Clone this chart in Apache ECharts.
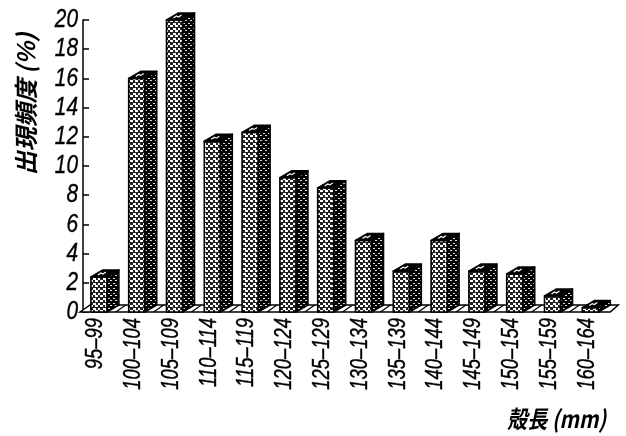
<!DOCTYPE html>
<html>
<head>
<meta charset="utf-8">
<style>html,body{margin:0;padding:0;background:#fff}#c{width:626px;height:436px}</style>
<script src="https://cdn.jsdelivr.net/npm/echarts@6/dist/echarts.min.js"></script>
</head>
<body>
<div id="c"></div>
<script>
const categories = ['95-99','100-104','105-109','110-114','115-119','120-124','125-129','130-134','135-139','140-144','145-149','150-154','155-159','160-164'];
const frequency = [2.4,16,20,11.7,12.3,9.2,8.5,4.9,2.8,4.9,2.8,2.6,1.1,0.3];
const yTicks = [0,2,4,6,8,10,12,14,16,18,20];
const yTitle = '出現頻度 (%)';
const xTitle = '殻長 (mm)';

// Halftone tiles for the bar faces: staggered blobs on a 10px repeat
function halftone(bg, fg, w, h) {
  const c = document.createElement('canvas');
  c.width = c.height = 10;
  const g = c.getContext('2d');
  g.fillStyle = bg; g.fillRect(0, 0, 10, 10);
  g.fillStyle = fg;
  [[0, 0], [5, 0], [3, 3], [8, 3], [0, 5], [5, 5], [3, 8], [8, 8]].forEach(p => g.fillRect(p[0], p[1], w, h));
  return c;
}
const frontFill = { image: halftone('#222', '#fff', 3, 2), repeat: 'repeat' };
const sideFill = { image: halftone('#000', '#ddd', 2, 1), repeat: 'repeat' };

const BAR_W = 16, DEPTH_X = 12, DEPTH_Y = 7;
const INK = '#000';
const LATIN = '"Liberation Sans",sans-serif';
const CJK = '"Noto Sans CJK JP",sans-serif';

function renderBar(params, api) {
  const [x, y] = api.coord([api.value(0), api.value(1)]);
  const [, y0] = api.coord([api.value(0), 0]);
  const l = x - BAR_W / 2, r = x + BAR_W / 2;
  const line = { stroke: INK, lineWidth: 1.6, lineJoin: 'round' };
  const sx = DEPTH_X, sy = DEPTH_Y;
  return {
    type: 'group',
    children: [
      { type: 'polygon', shape: { points: [[r, y], [r + sx, y - sy], [r + sx, y0 - sy], [r, y0]] },
        style: { fill: sideFill, ...line } },
      { type: 'rect', shape: { x: l, y: y, width: BAR_W, height: y0 - y },
        style: { fill: frontFill, ...line } },
      { type: 'polygon', shape: { points: [[l, y], [l + sx, y - sy], [r + sx, y - sy], [r, y]] },
        style: { fill: INK, ...line } },
      { type: 'polyline', shape: { points: [[l + 7, y - 2], [l + 10, y - 4], [l + 12, y - 3], [l + 15, y - 5]] },
        style: { fill: 'none', stroke: '#fff', lineWidth: 1.2 } }
    ]
  };
}

// Floor plane with a diagonal rule beside every bar
function renderFloor(params, api) {
  const [x] = api.coord([api.value(0), 0]);
  const [, y0] = api.coord([0, 0]);
  const band = api.size([1, 0])[0];
  const children = [];
  if (params.dataIndex === 0) {
    const last = categories.length - 1;
    const xl = api.coord([0, 0])[0] - band / 2;
    const xr = api.coord([last, 0])[0] + band / 2;
    children.push({ type: 'polygon',
      shape: { points: [[xl, y0], [xl + 10, y0 - DEPTH_Y], [xr + 9, y0 - DEPTH_Y], [xr + 1, y0]] },
      style: { fill: '#fff', stroke: INK, lineWidth: 1.5 } });
  }
  if (params.dataIndex < categories.length - 1) {
    children.push({ type: 'line',
      shape: { x1: x + band / 2 - 2, y1: y0, x2: x + band / 2 + 8, y2: y0 - DEPTH_Y },
      style: { stroke: INK, lineWidth: 1.2 } });
  }
  return { type: 'group', children };
}

// Condensed italic numerals, placed through the axis scales
function renderYLabel(params, api) {
  const [, y] = api.coord([0, api.value(1)]);
  return { type: 'text', x: params.coordSys.x - 2, y: y, scaleX: 0.8,
    style: { text: String(api.value(1)), font: 'italic 26px ' + LATIN, fill: INK, stroke: INK, lineWidth: 0.4, align: 'right', verticalAlign: 'middle' } };
}
function renderXLabel(params, api) {
  const [x, y0] = api.coord([api.value(0), 0]);
  return { type: 'text', x: x - 3, y: y0 + 6, rotation: Math.PI / 2, scaleX: 0.8,
    style: { text: categories[params.dataIndex].replace('-', '–'), font: 'italic 23px ' + LATIN, fill: INK, stroke: INK, lineWidth: 0.4, align: 'right', verticalAlign: 'middle' } };
}

const chart = echarts.init(document.getElementById('c'), null, { renderer: 'canvas' });

chart.setOption({
  animation: false,
  backgroundColor: '#fff',
  grid: { left: 80, top: 20, width: 529.2, height: 292 },
  xAxis: {
    type: 'category', data: categories,
    axisLine: { show: false }, axisTick: { show: false }, splitLine: { show: false }, axisLabel: { show: false }
  },
  yAxis: {
    type: 'value', min: yTicks[0], max: yTicks[yTicks.length - 1], interval: 2, offset: -3,
    axisLine: { show: true, lineStyle: { color: INK, width: 1.5 } },
    axisTick: { show: true, inside: true, length: 6, lineStyle: { color: INK, width: 1.5 } },
    splitLine: { show: false }, axisLabel: { show: false }
  },
  series: [
    { type: 'custom', renderItem: renderFloor, data: categories.map((_, i) => [i, 0]), z: 1, clip: false, silent: true },
    { type: 'custom', renderItem: renderBar, data: frequency.map((v, i) => [i, v]), z: 2, clip: false, silent: true },
    { type: 'custom', renderItem: renderYLabel, data: yTicks.map(v => [0, v]), z: 3, clip: false, silent: true },
    { type: 'custom', renderItem: renderXLabel, data: categories.map((_, i) => [i, 0]), z: 3, clip: false, silent: true }
  ],
  graphic: [
    { type: 'text', x: 26, y: 104, rotation: Math.PI / 2, z: 5,
      style: { text: yTitle, font: 'italic 600 24px ' + CJK, fill: INK, align: 'center', verticalAlign: 'middle' } },
    { type: 'text', x: 507, y: 419, scaleX: 0.84, z: 5,
      style: { text: xTitle, font: 'italic 600 24px ' + CJK, fill: INK, align: 'left', verticalAlign: 'middle' } }
  ]
});
</script>
</body>
</html>
